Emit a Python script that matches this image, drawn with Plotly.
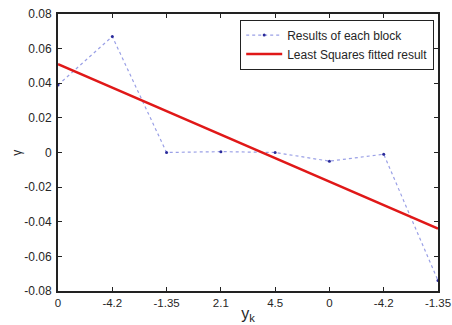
import plotly.graph_objects as go

x_pos = [0, 1, 2, 3, 4, 5, 6, 7]
tick_labels = ["0", "-4.2", "-1.35", "2.1", "4.5", "0", "-4.2", "-1.35"]
block_results = [0.039, 0.067, 0.0, 0.0005, 0.0, -0.005, -0.001, -0.074]
fit_x = [0, 7]
fit_y = [0.051, -0.044]

FONT = "Liberation Sans, Arial"
TXT = "#262626"

fig = go.Figure()
fig.add_trace(go.Scatter(
    x=x_pos, y=block_results, mode="lines+markers", name="Results of each block",
    line=dict(color="#9aa0e6", width=1.2, dash="dot"),
    marker=dict(color="#2a2a9a", size=3, symbol="circle"),
))
fig.add_trace(go.Scatter(
    x=fit_x, y=fit_y, mode="lines", name="Least Squares fitted result",
    line=dict(color="#e01818", width=2.5),
))

axis_common = dict(
    showgrid=False, zeroline=False, showline=True, linecolor="#222222", linewidth=2,
    mirror="ticks", ticks="inside", ticklen=4, tickcolor="#222222", tickwidth=1,
    automargin=False, ticklabeloverflow="allow",
)
fig.update_xaxes(
    range=[0, 7], tickmode="array", tickvals=x_pos, ticktext=tick_labels,
    tickfont=dict(family=FONT, size=11.5, color=TXT),
    title=dict(text="y<sub>k</sub>", font=dict(family=FONT, size=16, color=TXT), standoff=0),
    **axis_common,
)
fig.update_yaxes(
    range=[-0.08, 0.08], tickmode="array",
    tickvals=[-0.08, -0.06, -0.04, -0.02, 0, 0.02, 0.04, 0.06, 0.08],
    ticktext=["-0.08", "-0.06", "-0.04", "-0.02", "0", "0.02", "0.04", "0.06", "0.08"],
    tickfont=dict(family=FONT, size=12, color=TXT),
    ticklabelstandoff=2,
    **axis_common,
)
fig.add_annotation(
    text="γ", xref="paper", yref="paper", x=-0.11, y=0.5, xanchor="center", yanchor="middle",
    textangle=-90, showarrow=False, font=dict(family=FONT, size=12, color=TXT),
)
fig.update_layout(
    width=452, height=325,
    margin=dict(l=58, r=14, t=14, b=34),
    paper_bgcolor="white", plot_bgcolor="white",
    showlegend=True,
    legend=dict(
        x=0.99, y=0.98, xanchor="right", yanchor="top",
        bgcolor="white", bordercolor="#222222", borderwidth=1,
        font=dict(family=FONT, size=12, color=TXT),
        tracegroupgap=0, itemwidth=36,
    ),
)
fig.write_html("out.html")
